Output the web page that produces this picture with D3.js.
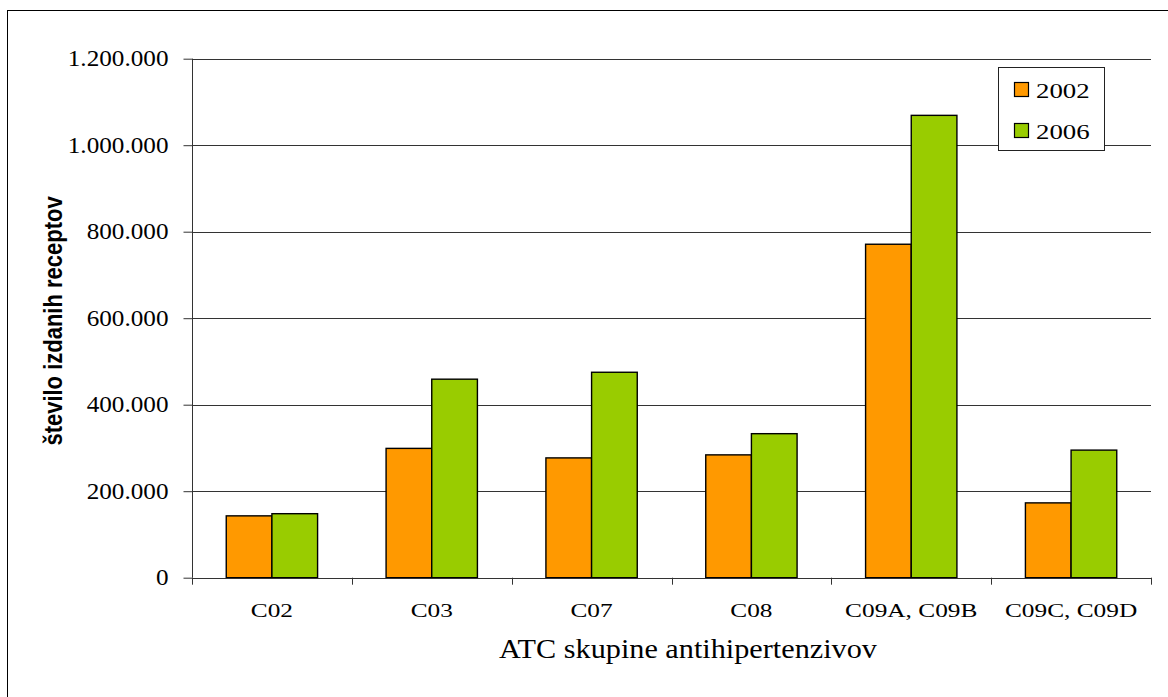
<!DOCTYPE html>
<html>
<head>
<meta charset="utf-8">
<script src="https://cdn.jsdelivr.net/npm/d3@7"></script>
<style>
  body { margin: 0; background: #fff; }
  .serif { font-family: "Liberation Serif", "Times New Roman", serif; fill: #000; }
</style>
</head>
<body>
<svg id="chart" width="1168" height="697"></svg>
<script>
// Number of issued prescriptions by ATC antihypertensive group
const categories = ["C02", "C03", "C07", "C08", "C09A, C09B", "C09C, C09D"];
const seriesNames = ["2002", "2006"];
const values2002 = [143000, 299000, 277000, 284000, 771000, 173000];
const values2006 = [148000, 459000, 475000, 333000, 1069000, 295000];
const yTicks = [0, 200000, 400000, 600000, 800000, 1000000, 1200000];
const seriesColors = ["#FF9900", "#99CC00"];

const yTitle = "število izdanih receptov";
const xTitle = "ATC skupine antihipertenzivov";

const series = [values2002, values2006];

const svg = d3.select("#chart");
const plot = { left: 192, right: 1151, top: 58.7, bottom: 577.7 };

const fmt = d3.formatLocale({ decimal: ",", thousands: ".", grouping: [3], currency: ["", ""] }).format(",d");

const x = d3.scaleBand().domain(categories).range([plot.left, plot.right]).paddingInner(0).paddingOuter(0);
const groupWidth = x.bandwidth() * 2 / 3.5;
const xInner = d3.scaleBand().domain(seriesNames).range([0, groupWidth]);
const y = d3.scaleLinear().domain([0, 1200000]).range([plot.bottom, plot.top]);

// outer chart frame
svg.append("rect")
  .attr("x", 7.5).attr("y", 10.5)
  .attr("width", 1300).attr("height", 800)
  .attr("fill", "none").attr("stroke", "#000").attr("stroke-width", 1);

// horizontal gridlines
svg.append("g")
  .selectAll("line")
  .data(yTicks.filter(d => d > 0))
  .join("line")
  .attr("x1", plot.left).attr("x2", plot.right)
  .attr("y1", d => Math.round(y(d)) + 0.5).attr("y2", d => Math.round(y(d)) + 0.5)
  .attr("stroke", "#333").attr("stroke-width", 1);

// bars
const groups = svg.append("g")
  .selectAll("g")
  .data(categories)
  .join("g")
  .attr("transform", c => `translate(${x(c) + (x.bandwidth() - groupWidth) / 2},0)`);

groups.selectAll("rect")
  .data((c, i) => seriesNames.map((s, j) => ({ s, v: series[j][i], j })))
  .join("rect")
  .attr("x", d => xInner(d.s))
  .attr("width", xInner.bandwidth())
  .attr("y", d => y(d.v))
  .attr("height", d => y(0) - y(d.v))
  .attr("fill", d => seriesColors[d.j])
  .attr("stroke", "#000")
  .attr("stroke-width", 1.4);

// y axis
const yAxis = svg.append("g")
  .attr("transform", `translate(${plot.left + 0.5},0)`)
  .call(d3.axisLeft(y).tickValues(yTicks).tickFormat(fmt).tickSize(9).tickPadding(15));
yAxis.select(".domain").attr("stroke", "#333").attr("d", `M0,${y(1200000)}V${y(0)}`);
yAxis.selectAll(".tick line").attr("stroke", "#333");
yAxis.selectAll(".tick text")
  .attr("class", "serif")
  .attr("font-size", 22.5)
  .attr("x", 0)
  .attr("transform", "translate(-24,0) scale(1.12,1)");

// x axis baseline with boundary ticks
const xAxis = svg.append("g");
xAxis.append("line")
  .attr("x1", plot.left).attr("x2", plot.right)
  .attr("y1", Math.round(y(0)) + 0.5).attr("y2", Math.round(y(0)) + 0.5)
  .attr("stroke", "#333");
const boundaries = categories.map(c => x(c)).concat([x(categories[categories.length - 1]) + x.bandwidth()]);
xAxis.selectAll("line.bt")
  .data(boundaries)
  .join("line")
  .attr("class", "bt")
  .attr("x1", d => Math.round(d) + 0.5).attr("x2", d => Math.round(d) + 0.5)
  .attr("y1", y(0)).attr("y2", y(0) + 7)
  .attr("stroke", "#333");

// category labels
svg.append("g")
  .selectAll("text")
  .data(categories)
  .join("text")
  .attr("class", "serif")
  .attr("font-size", 19.5)
  .attr("text-anchor", "middle")
  .attr("transform", c => `translate(${x(c) + x.bandwidth() / 2},617) scale(1.3,1)`)
  .text(c => c);

// axis titles
svg.append("text")
  .attr("class", "serif")
  .attr("font-size", 27)
  .attr("text-anchor", "middle")
  .attr("transform", "translate(688,658) scale(1.12,1)")
  .text(xTitle);

svg.append("text")
  .attr("font-family", "'Liberation Sans', Arial, sans-serif")
  .attr("font-weight", "bold")
  .attr("font-size", 22)
  .attr("text-anchor", "middle")
  .attr("fill", "#000")
  .attr("transform", "translate(62,321) scale(1.2,1) rotate(-90)")
  .text(yTitle);

// legend
const legend = svg.append("g");
legend.append("rect")
  .attr("x", 998.5).attr("y", 67.5).attr("width", 106).attr("height", 83)
  .attr("fill", "#fff").attr("stroke", "#222").attr("stroke-width", 1);
const items = legend.selectAll("g.item")
  .data(seriesNames)
  .join("g")
  .attr("class", "item")
  .attr("transform", (d, i) => `translate(1014,${82 + i * 41})`);
items.append("rect")
  .attr("x", 0.5).attr("y", 0.5).attr("width", 14).attr("height", 14)
  .attr("fill", (d, i) => seriesColors[i]).attr("stroke", "#000").attr("stroke-width", 1.2);
items.append("text")
  .attr("class", "serif")
  .attr("font-size", 22)
  .attr("transform", "translate(22,15.5) scale(1.22,1)")
  .text(d => d);
</script>
</body>
</html>
